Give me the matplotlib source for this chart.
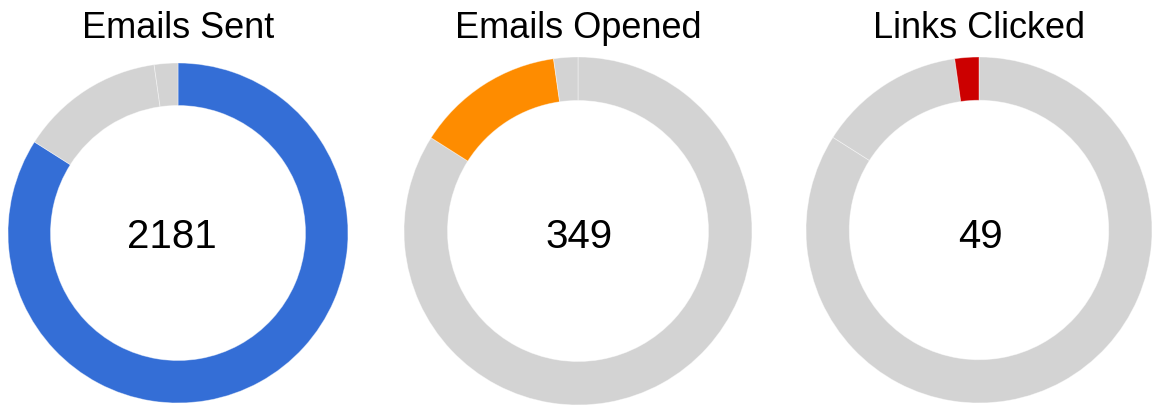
import matplotlib
matplotlib.use('Agg')
import matplotlib.pyplot as plt

titles = ['Emails Sent', 'Emails Opened', 'Links Clicked']
center_labels = ['2181', '349', '49']
# ring segments, clockwise from 12 o'clock: not opened, opened only, clicked
segment_values = [1832, 300, 49]
highlight = [0, 1, 2]
highlight_colors = ['#346ed6', '#fe8c00', '#cc0000']
rest_color = '#d3d3d3'

plt.rcParams['font.family'] = ['Liberation Sans', 'DejaVu Sans']

W, H = 1152, 410
fig = plt.figure(figsize=(W / 100, H / 100), dpi=100)

# donut centres and radii in pixels, plus x of the centre label
centres = [(178, 234, 170, 172), (578, 232, 174, 579), (979, 231, 173, 980)]

for i, (cx, cy, r, lx) in enumerate(centres):
    ax = fig.add_axes([(cx - r) / W, (H - cy - r) / H, 2 * r / W, 2 * r / H])
    colors = [rest_color] * len(segment_values)
    colors[highlight[i]] = highlight_colors[i]
    ax.pie(segment_values, colors=colors, startangle=90, counterclock=False,
           radius=1, wedgeprops=dict(width=0.25, edgecolor=(1, 1, 1, 0.45), linewidth=0.6))
    ax.set_xlim(-1, 1)
    ax.set_ylim(-1, 1)
    ax.set_aspect('equal')
    ax.axis('off')
    fig.text(lx / W, 1 - 237 / H, center_labels[i], ha='center', va='center', fontsize=29)
    fig.text(cx / W, 1 - 29 / H, titles[i], ha='center', va='center', fontsize=26)

fig.savefig('out.png', dpi=100)
